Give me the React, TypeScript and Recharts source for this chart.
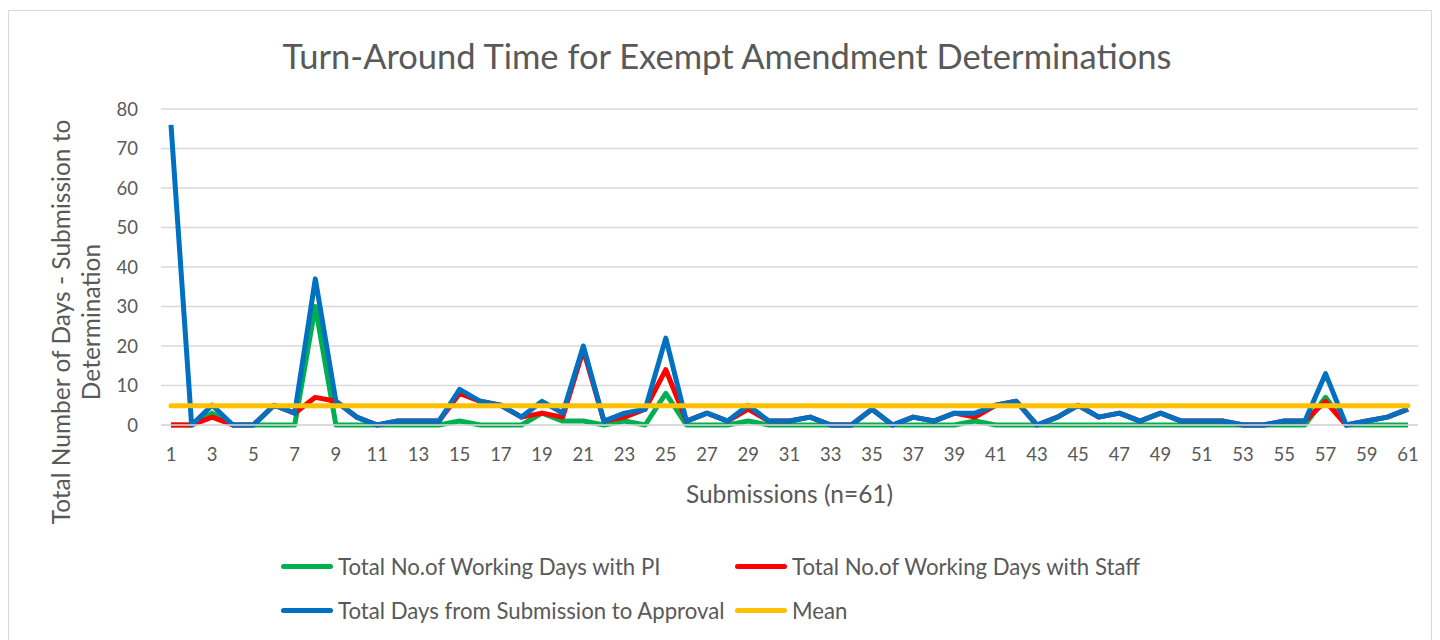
import { LineChart, Line, XAxis, YAxis, CartesianGrid, Legend, Label } from 'recharts';

const submissions = [
  '1', '2', '3', '4', '5', '6', '7', '8', '9', '10',
  '11', '12', '13', '14', '15', '16', '17', '18', '19', '20',
  '21', '22', '23', '24', '25', '26', '27', '28', '29', '30',
  '31', '32', '33', '34', '35', '36', '37', '38', '39', '40',
  '41', '42', '43', '44', '45', '46', '47', '48', '49', '50',
  '51', '52', '53', '54', '55', '56', '57', '58', '59', '60', '61',
];

const daysWithPI = [
  0, 0, 3, 0, 0, 0, 0, 30, 0, 0,
  0, 0, 0, 0, 1, 0, 0, 0, 3, 1,
  1, 0, 1, 0, 8, 0, 0, 0, 1, 0,
  0, 0, 0, 0, 0, 0, 0, 0, 0, 1,
  0, 0, 0, 0, 0, 0, 0, 0, 0, 0,
  0, 0, 0, 0, 0, 0, 7, 0, 0, 0, 0,
];

const daysWithStaff = [
  0, 0, 2, 0, 0, 5, 3, 7, 6, 2,
  0, 1, 1, 1, 8, 6, 5, 2, 3, 2,
  19, 1, 2, 4, 14, 1, 3, 1, 4, 1,
  1, 2, 0, 0, 4, 0, 2, 1, 3, 2,
  5, 6, 0, 2, 5, 2, 3, 1, 3, 1,
  1, 1, 0, 0, 1, 1, 6, 0, 1, 2, 4,
];

const totalDays = [
  76, 0, 5, 0, 0, 5, 3, 37, 6, 2,
  0, 1, 1, 1, 9, 6, 5, 2, 6, 3,
  20, 1, 3, 4, 22, 1, 3, 1, 5, 1,
  1, 2, 0, 0, 4, 0, 2, 1, 3, 3,
  5, 6, 0, 2, 5, 2, 3, 1, 3, 1,
  1, 1, 0, 0, 1, 1, 13, 0, 1, 2, 4,
];

const meanDays = 4.87;

const yTicks = [0, 10, 20, 30, 40, 50, 60, 70, 80];

const data = submissions.map((s, i) => ({
  submission: s,
  pi: daysWithPI[i],
  staff: daysWithStaff[i],
  total: totalDays[i],
  mean: meanDays,
}));

const FONT = 'Lato, "Open Sans", sans-serif';
const TEXT = '#595959';

const legendItems = [
  { label: 'Total No.of Working Days with PI', color: '#00B050' },
  { label: 'Total No.of Working Days with Staff', color: '#FF0000' },
  { label: 'Total Days from Submission to Approval', color: '#0070C0' },
  { label: 'Mean', color: '#FFC000' },
];

function renderLegend() {
  return (
    <div
      style={{
        display: 'grid',
        gridTemplateColumns: '454px 454px',
        rowGap: 14,
        paddingLeft: 272,
        fontFamily: FONT,
        fontSize: 22.2,
        color: TEXT,
      }}
    >
      {legendItems.map((it) => (
        <div key={it.label} style={{ display: 'flex', alignItems: 'center', height: 30 }}>
          <span
            style={{
              display: 'inline-block',
              width: 52,
              height: 5,
              borderRadius: 3,
              background: it.color,
              marginRight: 5,
            }}
          />
          <span style={{ whiteSpace: 'nowrap' }}>{it.label}</span>
        </div>
      ))}
    </div>
  );
}

function YTitle(props: any) {
  const { viewBox } = props;
  const cy = viewBox.y + viewBox.height / 2 + 55;
  return (
    <g fontFamily={FONT} fontSize={24.5} fill={TEXT}>
      <text x={51} y={cy} transform={`rotate(-90, 51, ${cy})`} textAnchor="middle" dominantBaseline="central">
        Total Number of Days - Submission to
      </text>
      <text x={81} y={cy} transform={`rotate(-90, 81, ${cy})`} textAnchor="middle" dominantBaseline="central">
        Determination
      </text>
    </g>
  );
}

export default function App() {
  return (
    <div
      style={{
        position: 'relative',
        marginTop: 2,
        width: 1424,
        height: 640,
        boxSizing: 'border-box',
        border: '1px solid #d9d9d9',
        background: '#fff',
      }}
    >
      <div
        style={{
          position: 'absolute',
          top: 24,
          left: 7,
          width: '100%',
          textAlign: 'center',
          fontFamily: FONT,
          fontSize: 34.5,
          color: TEXT,
        }}
      >
        Turn-Around Time for Exempt Amendment Determinations
      </div>
      <LineChart
        width={1422}
        height={628}
        data={data}
        margin={{ top: 98, right: 13, bottom: 8, left: 12 }}
      >
        <CartesianGrid vertical={false} stroke="#d9d9d9" strokeWidth={1.5} />
        <XAxis
          dataKey="submission"
          interval={1}
          height={126}
          padding={{ left: 10, right: 10 }}
          tickLine={false}
          axisLine={{ stroke: '#d9d9d9', strokeWidth: 1.5 }}
          tickMargin={17}
          tick={{ fill: TEXT, fontSize: 18.5, fontFamily: FONT }}
        >
          <Label
            value="Submissions (n=61)"
            position="insideTop"
            offset={61}
            style={{ fill: TEXT, fontSize: 24.5, fontFamily: FONT }}
          />
        </XAxis>
        <YAxis
          width={140}
          domain={[0, 80]}
          ticks={yTicks}
          tickLine={false}
          axisLine={false}
          tickMargin={17}
          tick={{ fill: TEXT, fontSize: 18.5, fontFamily: FONT }}
          label={<YTitle />}
        />
        <Legend verticalAlign="bottom" height={80} wrapperStyle={{ left: 0, width: 1422 }} content={renderLegend} />
        <Line dataKey="pi" stroke="#00B050" strokeWidth={5} dot={false} isAnimationActive={false} strokeLinejoin="round" />
        <Line dataKey="staff" stroke="#FF0000" strokeWidth={5} dot={false} isAnimationActive={false} strokeLinejoin="round" />
        <Line dataKey="total" stroke="#0070C0" strokeWidth={5} dot={false} isAnimationActive={false} strokeLinejoin="round" />
        <Line dataKey="mean" stroke="#FFC000" strokeWidth={5} dot={false} isAnimationActive={false} strokeLinecap="round" />
      </LineChart>
    </div>
  );
}
